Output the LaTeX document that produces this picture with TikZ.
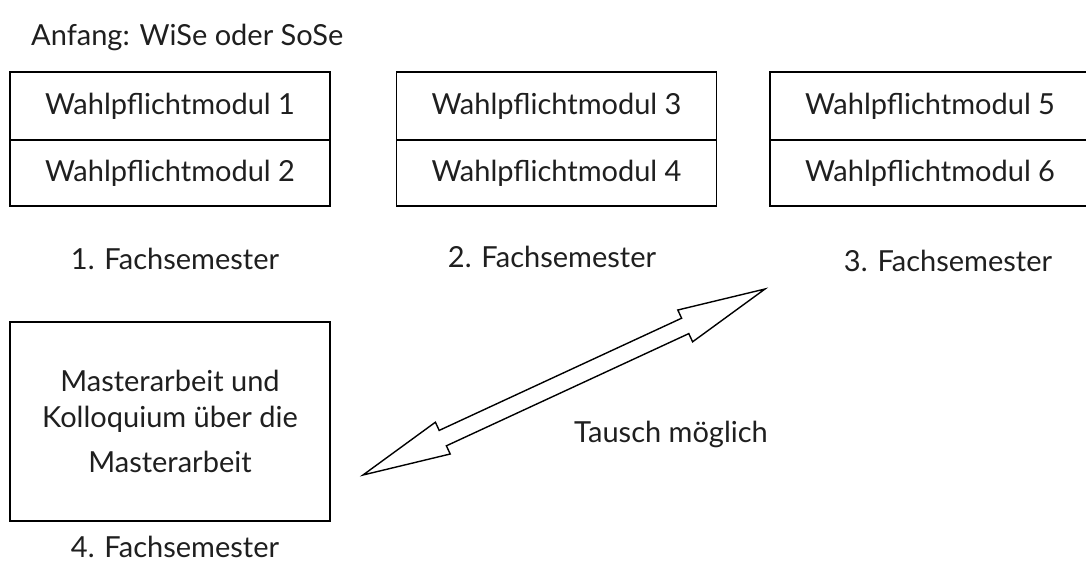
\documentclass[tikz,border=0pt]{standalone}
\usepackage{fontspec}
\setmainfont{Lato}
\begin{document}
\begin{tikzpicture}[x=1pt,y=-1pt,
  txt/.style={font=\fontsize{29}{36}\selectfont, text=black!88},
  box/.style={draw, line width=1.4pt, minimum width=320pt, inner sep=0pt, txt, align=center},
  lbl/.style={inner sep=0pt, txt, anchor=base},
  bigarrow/.style={draw, line width=1.4pt, line join=miter, fill=white}]
\useasboundingbox (0,0) rectangle (1086,563);
\clip (0,0) rectangle (1086,563);
\node[lbl, anchor=base west] (start) at (31,45) {Anfang: WiSe oder SoSe};
% semester 1
\node[box, minimum height=68pt] (m1) at (170,106) {Wahlpflichtmodul 1};
\node[box, minimum height=66pt] (m2) at (170,173) {Wahlpflichtmodul 2};
\node[lbl] (s1) at (175,269) {1. Fachsemester};
% semester 2
\node[box, minimum height=68pt] (m3) at (556.5,106) {Wahlpflichtmodul 3};
\node[box, minimum height=66pt] (m4) at (556.5,173) {Wahlpflichtmodul 4};
\node[lbl] (s2) at (552,267) {2. Fachsemester};
% semester 3
\node[box, minimum height=68pt] (m5) at (930,106) {Wahlpflichtmodul 5};
\node[box, minimum height=66pt] (m6) at (930,173) {Wahlpflichtmodul 6};
\node[lbl] (s3) at (948,271) {3. Fachsemester};
% semester 4
\node[box, minimum height=199pt] (ma) at (170,421.5) {};
\node[lbl] (ma1) at (ma.center |- 0,391) {Masterarbeit und};
\node[lbl] (ma2) at (ma.center |- 0,427) {Kolloquium über die};
\node[lbl] (ma3) at (ma.center |- 0,472) {Masterarbeit};
\node[lbl] (s4) at (175,557) {4. Fachsemester};
% exchange arrow
\draw[bigarrow] (765,289) -- (677.8,310) -- (681.6,318.2) -- (439.2,430.4) -- (435.4,422.2)
  -- (363,475) -- (450.2,454) -- (446.4,445.8) -- (688.8,333.6) -- (692.6,341.8) -- cycle;
\node[lbl] (swap) at (671,442) {Tausch möglich};
\end{tikzpicture}
\end{document}
